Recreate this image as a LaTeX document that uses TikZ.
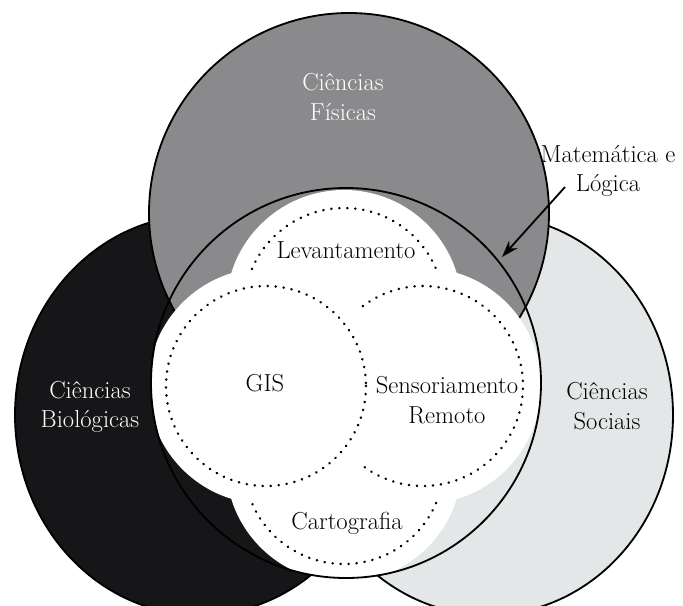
\documentclass[tikz,border=0pt]{standalone}
\usepackage{tikz}
\usetikzlibrary{arrows,arrows.meta}
\definecolor{fisicas}{RGB}{138,138,140}
\definecolor{biologicas}{RGB}{22,22,24}
\definecolor{sociais}{RGB}{228,231,231}
\tikzstyle{area}  = [line width=1.3pt, draw=black]
\tikzstyle{lobe}  = [dash pattern=on 0.1pt off 5.6pt, line cap=round, line width=1.9pt]
\tikzstyle{txt}   = [font=\fontsize{17.5}{21}\selectfont, align=center, inner sep=0pt]
\tikzstyle{arrow} = [line width=1.3pt,-{Stealth[length=12pt,width=8pt]}]

\begin{document}
\begin{tikzpicture}[x=0.025cm, y=-0.025cm]
		\clip (0,0) rectangle (683,605);
		\fill[white] (0,0) rectangle (683,605);

		% the three sciences
		\draw[area, fill=biologicas] (200,415) ellipse [x radius=185, y radius=200];
		\draw[area, fill=sociais] (488,415) ellipse [x radius=185, y radius=200];
		\draw[area, fill=fisicas] (349,213) circle [radius=200];

		% white cloud inside the centre circle
		\begin{scope}
			\clip (346,383) circle [radius=195];
			\fill[white] (344,308) circle [radius=118] (266,386) circle [radius=118]
				(423,386) circle [radius=118] (344,464) circle [radius=118];
		\end{scope}
		\draw[area] (346,383) circle [radius=195];

		% dotted lobes
		\draw[lobe] (344,308) ++(203:100) arc [start angle=203, end angle=337, radius=100];
		\draw[lobe] (266,386) circle [radius=100];
		\draw[lobe] (423,386) ++(-127:100) arc [start angle=-127, end angle=129, radius=100];
		\draw[lobe] (344,464) ++(23:100) arc [start angle=23, end angle=157, radius=100];

		\node[txt, text=white] (fis) at (343,97) {Ciências\\Físicas};
		\node[txt, text=white] (bio) at (90,407) {Ciências\\Biológicas};
		\node[txt] (soc) at (607,406) {Ciências\\Sociais};
		\node[txt] (matlog) at (608,171) {Matemática e\\Lógica};
		\node[txt] (lev) at (346,250) {Levantamento};
		\node[txt] (gis) at (265,383) {GIS};
		\node[txt] (sens) at (447,400) {Sensoriamento\\Remoto};
		\node[txt] (carto) at (347,523) {Cartografia};

		\coordinate (matfrom) at (565,187);
		\coordinate (matto) at (502,257);
		\draw[arrow] (matfrom) -- (matto);
	\end{tikzpicture}
\end{document}
